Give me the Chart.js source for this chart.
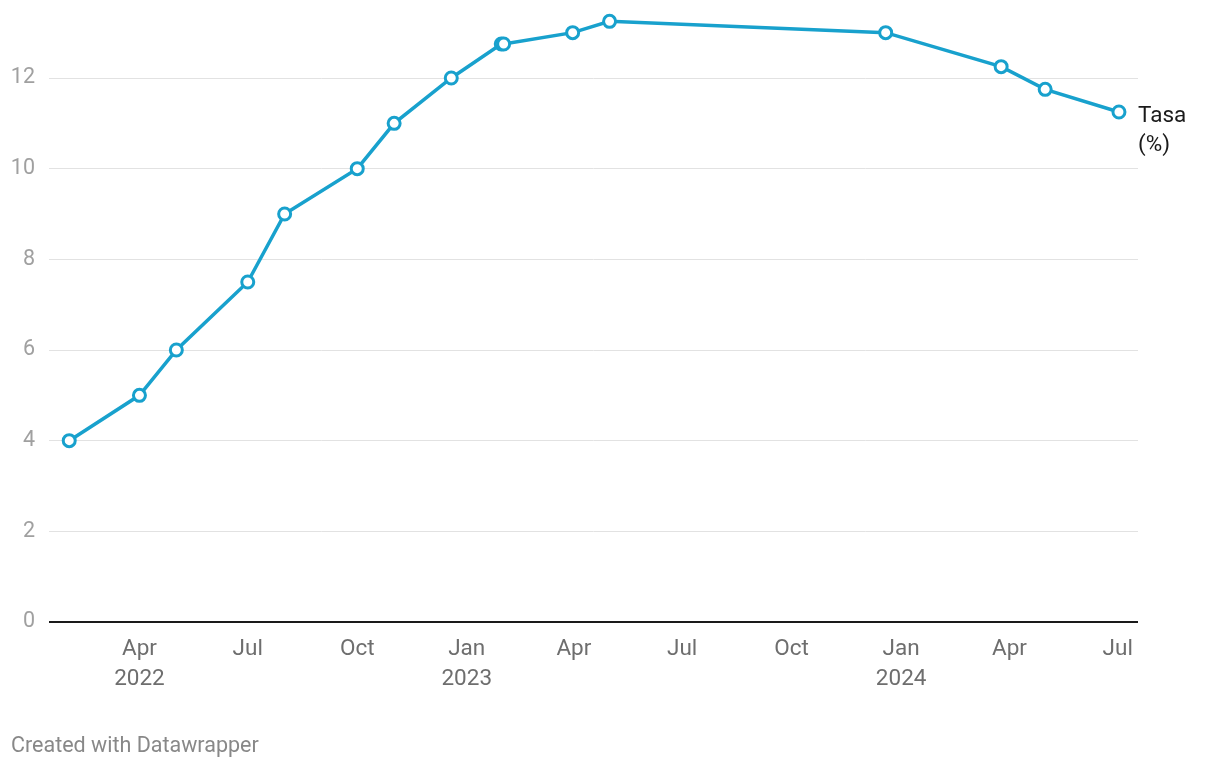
<!DOCTYPE html>
<html>
<head>
<meta charset="utf-8">
<script src="https://cdn.jsdelivr.net/npm/chart.js@4/dist/chart.umd.min.js"></script>
<style>
  html, body { margin: 0; padding: 0; background: #fff; }
  #wrap { position: relative; width: 1220px; height: 768px; }
  #footer {
    position: absolute; left: 11px; top: 732px;
    font-family: Roboto, sans-serif; font-size: 21.5px; color: #888;
  }
</style>
</head>
<body>
<div id="wrap">
  <canvas id="myChart" width="1220" height="768"></canvas>
  <div id="footer">Created with Datawrapper</div>
</div>
<script>
// policy rate (effective date, %)
const dates = [
  '2022-02-01', '2022-04-01', '2022-05-02', '2022-07-01', '2022-08-01',
  '2022-10-01', '2022-11-01', '2022-12-19', '2023-01-30', '2023-02-01',
  '2023-03-31', '2023-05-01', '2023-12-19', '2024-03-25', '2024-05-01',
  '2024-07-02'
];
const rates = [4, 5, 6, 7.5, 9, 10, 11, 12, 12.75, 12.75, 13, 13.25, 13, 12.25, 11.75, 11.25];

const tickDates = ['2022-04-01', '2022-07-01', '2022-10-01', '2023-01-01', '2023-04-01',
  '2023-07-01', '2023-10-01', '2024-01-01', '2024-04-01', '2024-07-01'];
const tickMonths = ['Apr', 'Jul', 'Oct', 'Jan', 'Apr', 'Jul', 'Oct', 'Jan', 'Apr', 'Jul'];
const tickYears = ['2022', '', '', '2023', '', '', '', '2024', '', ''];
const yTicks = [0, 2, 4, 6, 8, 10, 12];
const seriesLabel = ['Tasa', '(%)'];

function toDay(str) {
  const p = str.split('-');
  return Date.UTC(+p[0], +p[1] - 1, +p[2]) / 86400000;
}

const lineColor = '#18a1cd';

// label next to the last point
const endLabel = {
  id: 'endLabel',
  afterDatasetsDraw(chart) {
    const meta = chart.getDatasetMeta(0);
    const last = meta.data[meta.data.length - 1];
    const ctx = chart.ctx;
    ctx.save();
    ctx.font = '22.5px Roboto';
    ctx.fillStyle = '#1a1a1a';
    ctx.textAlign = 'left';
    ctx.textBaseline = 'middle';
    ctx.fillText(seriesLabel[0], last.x + 19, last.y + 4);
    ctx.fillText(seriesLabel[1], last.x + 19, last.y + 33);
    ctx.restore();
  }
};

function mainEvent() {
  Chart.defaults.font.family = 'Roboto';
  const target = document.querySelector('#myChart');
  const points = dates.map((d, i) => ({ x: toDay(d), y: rates[i] }));

  new Chart(target, {
    type: 'line',
    data: {
      datasets: [{
        data: points,
        borderColor: lineColor,
        borderWidth: 3.5,
        pointRadius: 6,
        pointBorderWidth: 3,
        pointBackgroundColor: '#fff',
        pointBorderColor: lineColor,
        tension: 0,
        clip: false
      }]
    },
    options: {
      responsive: false,
      animation: false,
      layout: { padding: { top: 10, right: 82, left: 0, bottom: 0 } },
      plugins: { legend: { display: false }, tooltip: { enabled: false } },
      scales: {
        x: {
          type: 'linear',
          min: toDay('2022-01-15'),
          max: toDay('2024-07-18'),
          afterBuildTicks: (scale) => { scale.ticks = tickDates.map((d) => ({ value: toDay(d) })); },
          afterFit: (scale) => { scale.height = 146; scale.paddingLeft = 0; scale.paddingRight = 0; },
          grid: { display: false, drawTicks: false },
          border: { display: false },
          ticks: {
            maxRotation: 0,
            autoSkip: false,
            padding: 12,
            color: '#6e6e6e',
            font: { size: 22.5, lineHeight: '30px' },
            callback: (value, index) => tickYears[index] ? [tickMonths[index], tickYears[index]] : tickMonths[index]
          }
        },
        y: {
          min: 0,
          max: 13.5,
          afterBuildTicks: (scale) => { scale.ticks = yTicks.map((v) => ({ value: v })); },
          afterFit: (scale) => { scale.width = 49; scale.paddingTop = 0; scale.paddingBottom = 0; },
          border: { display: false },
          grid: {
            drawTicks: false,
            color: (c) => c.tick && c.tick.value === 0 ? '#1a1a1a' : '#e2e2e2',
            lineWidth: (c) => c.tick && c.tick.value === 0 ? 2 : 1
          },
          ticks: {
            padding: 14,
            color: '#a0a0a0',
            font: { size: 21.5 }
          }
        }
      }
    },
    plugins: [endLabel]
  });
}

document.addEventListener('DOMContentLoaded', () => mainEvent());
</script>
</body>
</html>
